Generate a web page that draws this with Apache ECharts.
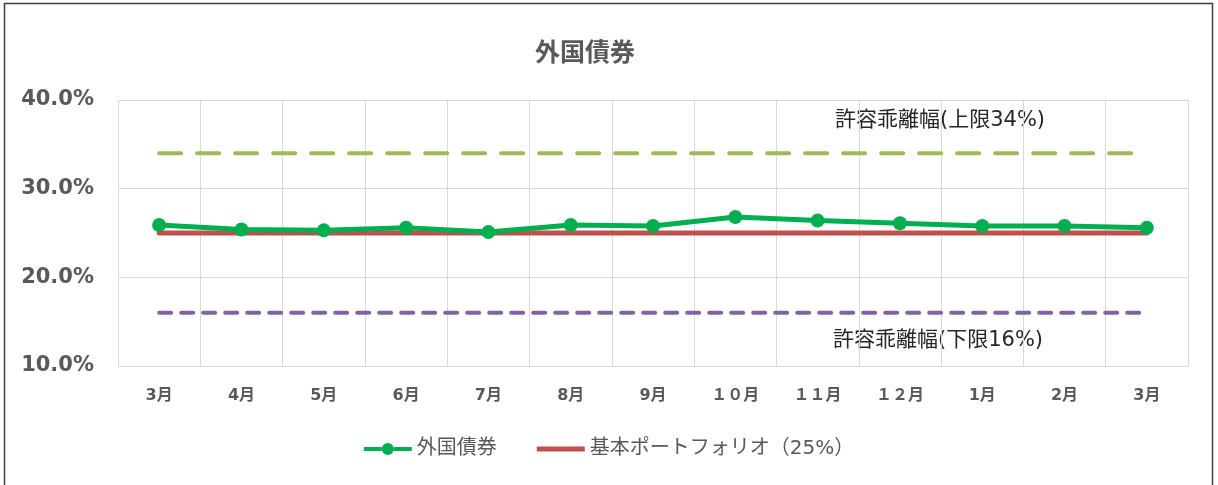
<!DOCTYPE html>
<html>
<head>
<meta charset="utf-8">
<script src="https://cdn.jsdelivr.net/npm/echarts@6/dist/echarts.min.js"></script>
<style>
html,body{margin:0;padding:0;background:#fff;}
#c{position:absolute;left:0;top:0;width:1218px;height:485px;}
</style>
</head>
<body>
<div id="c"></div>
<script>
const titleText = '外国債券';
const categories = ['3月','4月','5月','6月','7月','8月','9月','１０月','１１月','１２月','1月','2月','3月'];
const foreignBonds = [25.9, 25.4, 25.3, 25.6, 25.1, 25.9, 25.8, 26.8, 26.4, 26.1, 25.8, 25.8, 25.6];
const basePortfolio = [25, 25, 25, 25, 25, 25, 25, 25, 25, 25, 25, 25, 25];
const upperLimit = [34, 34, 34, 34, 34, 34, 34, 34, 34, 34, 34, 34, 34];
const lowerLimit = [16, 16, 16, 16, 16, 16, 16, 16, 16, 16, 16, 16, 16];
const seriesNames = ['外国債券', '基本ポートフォリオ（25%）'];
const upperLabel = '許容乖離幅(上限34%)';
const lowerLabel = '許容乖離幅(下限16%)';
const yTicks = {min: 10, max: 40, interval: 10};

const chart = echarts.init(document.getElementById('c'), null, {renderer: 'canvas'});
const jp = '"Noto Sans CJK JP", "DejaVu Sans", sans-serif';
const latinJp = '"DejaVu Sans", "Noto Sans CJK JP", sans-serif';

chart.setOption({
  animation: false,
  backgroundColor: '#fff',
  title: {
    text: titleText, left: 530, top: 34,
    textStyle: {fontFamily: jp, fontSize: 25, fontWeight: 'bold', color: '#595959'}
  },
  grid: {left: 118, right: 30, top: 100, bottom: 119},
  legend: {
    bottom: 21, left: 'center', itemWidth: 48, itemHeight: 14, itemGap: 40,
    textStyle: {fontFamily: latinJp, fontSize: 20, color: '#595959'},
    data: [
      {name: seriesNames[0], icon: 'path://M0,10 L18,10 L18,14 L0,14 Z M30,10 L48,10 L48,14 L30,14 Z M24,6 A6,6 0 1 1 24,18 A6,6 0 1 1 24,6 Z'},
      {name: seriesNames[1], icon: 'path://M0,0 L48,0 L48,5 L0,5 Z'}
    ]
  },
  xAxis: {
    type: 'category', data: categories, boundaryGap: true,
    axisLine: {show: true, lineStyle: {color: '#d9d9d9', width: 1}},
    axisTick: {show: false},
    splitLine: {show: true, lineStyle: {color: '#d9d9d9', width: 1}},
    axisLabel: {margin: 22, fontFamily: latinJp, fontWeight: 'bold', fontSize: 16, color: '#595959', interval: 0}
  },
  yAxis: {
    type: 'value', min: yTicks.min, max: yTicks.max, interval: yTicks.interval,
    axisLine: {show: false}, axisTick: {show: false},
    splitLine: {lineStyle: {color: '#d9d9d9', width: 1}},
    axisLabel: {margin: 24, fontFamily: latinJp, fontWeight: 'bold', fontSize: 21, color: '#595959',
      formatter: v => v.toFixed(1) + '%'}
  },
  series: [
    {
      name: 'upper', type: 'line', data: upperLimit, symbol: 'none', silent: true, z: 2,
      lineStyle: {color: '#9BBB59', width: 4, type: [22, 16], cap: 'round'}
    },
    {
      name: 'lower', type: 'line', data: lowerLimit, symbol: 'none', silent: true, z: 2,
      lineStyle: {color: '#8064A2', width: 4, type: [12, 10], cap: 'round'}
    },
    {
      name: seriesNames[1], type: 'line', data: basePortfolio, symbol: 'none', z: 3,
      itemStyle: {color: '#C0504D'},
      lineStyle: {color: '#C0504D', width: 5, cap: 'round'}
    },
    {
      name: seriesNames[0], type: 'line', data: foreignBonds, symbol: 'circle', symbolSize: 14, z: 4,
      itemStyle: {color: '#00B050'},
      lineStyle: {color: '#00B050', width: 5}
    }
  ],
  graphic: [
    {type: 'rect', shape: {x: 4.5, y: 3.5, width: 1208, height: 500}, style: {fill: 'none', stroke: '#404040', lineWidth: 1.5}, silent: true},
    {type: 'text', left: 835, top: 110, style: {text: upperLabel, fontFamily: latinJp, fontSize: 21, fill: '#262626'}},
    {type: 'text', left: 833, top: 330, style: {text: lowerLabel, fontFamily: latinJp, fontSize: 21, fill: '#262626'}}
  ]
});
</script>
</body>
</html>
